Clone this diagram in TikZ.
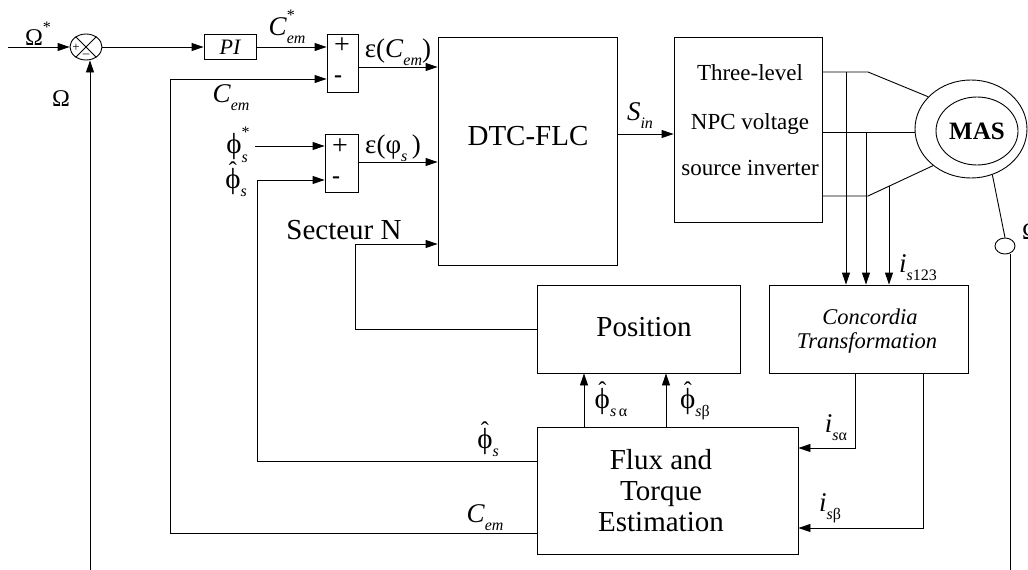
\RequirePackage{fix-cm}
\documentclass[tikz,border=0pt]{standalone}
\usepackage{amsmath}
\usepackage[no-math]{fontspec}
\setmainfont{Liberation Serif}
\usetikzlibrary{arrows.meta,shapes.geometric,calc}
\newcommand\fs[1]{\fontsize{#1}{#1}\selectfont}
\newcommand\sbs[1]{\raisebox{-0.3em}{\fs{16}#1}}
\newcommand\sps[1]{\raisebox{0.55em}{\fs{16}#1}}
\newcommand\sbsp[2]{\makebox[0pt][l]{\sps{#1}}\sbs{#2}}
\newcommand\hph{\leavevmode\vbox{\offinterlineskip\halign{\hfil##\hfil\cr{\fs{24}\char"02C6}\cr\noalign{\kern-10.5pt}ϕ\cr}}}
\begin{document}
\begin{tikzpicture}[x=1pt,y=-1pt,line width=0.9pt,
  box/.style={draw,rectangle,inner sep=0pt},
  arr/.style={-{Triangle[length=12pt,width=8pt]}},
  lbl/.style={inner sep=0pt,font=\fs{27}},
  phl/.style={inner sep=0pt,font=\fs{29}},
  big/.style={inner sep=0pt,font=\fs{29}},
  txt/.style={inner sep=0pt}]
\useasboundingbox (0,0) rectangle (1028,570);
\clip (0,0) rectangle (1028,570);
% blocks
\node[draw,ellipse,minimum width=32pt,minimum height=26pt,inner sep=0pt] (s0) at (86,47) {};
\draw (s0.45) -- (s0.225) (s0.135) -- (s0.315);
\node[txt,font=\fs{13}] (s0p) at (76,48) {+};
\node[txt,font=\fs{13}] (s0m) at (86,56) {--};
\node[box,minimum width=52pt,minimum height=25pt,font=\fs{22}\itshape] (pi) at (230,47) {PI};
\node[box,minimum width=31pt,minimum height=58pt] (sum1) at (342.5,63) {};
\node[txt,font=\fs{28}] (p1) at (342,46) {+};
\node[txt,font=\fs{24}\bfseries] (m1) at (338,79) {-};
\node[box,minimum width=33pt,minimum height=58pt] (sum2) at (341.5,163) {};
\node[txt,font=\fs{28}] (p2) at (340,147) {+};
\node[txt,font=\fs{24}\bfseries] (m2) at (336,180) {-};
\node[box,minimum width=179pt,minimum height=228pt] (dtc) at (527.5,151) {};
\node[big] (dtct) at (528,136) {DTC-FLC};
\node[box,minimum width=148pt,minimum height=185pt] (inv) at (748,129.5) {};
\node[txt,font=\fs{23}] (inv1) at (750,73) {Three-level};
\node[txt,font=\fs{23}] (inv2) at (750,124) {NPC voltage};
\node[txt,font=\fs{23}] (inv3) at (750,168) {source inverter};
\node[box,minimum width=203pt,minimum height=88pt] (pos) at (638.5,329) {};
\node[big] (post) at (644,327) {Position};
\node[box,minimum width=199pt,minimum height=88pt] (conc) at (868.5,329) {};
\node[txt,font=\fs{22.5}\itshape] (conc1) at (870,317) {Concordia};
\node[txt,font=\fs{22.5}\itshape] (conc2) at (867,343) {Transformation};
\node[box,minimum width=261pt,minimum height=127pt] (flux) at (667.5,490.5) {};
\node[txt,font=\fontsize{29}{31}\selectfont,align=center] (fluxt) at (661,491) {Flux and\\Torque\\Estimation};
\node[draw,ellipse,minimum width=112pt,minimum height=98pt,inner sep=0pt] (mas) at (971,129) {};
\node[draw,ellipse,minimum width=82pt,minimum height=68pt,inner sep=0pt,font=\fs{25}\bfseries] (masi) at (977,131) {MAS};
\node[draw,ellipse,minimum width=20pt,minimum height=16pt,inner sep=0pt] (sm) at (1005,246) {};
% coordinates
\coordinate (in0) at (8,47);
\coordinate (y67) at (0,67);
\coordinate (y162) at (0,162);
\coordinate (y134) at (0,134);
\coordinate (y132) at (0,132);
\coordinate (phin) at (255,146);
\coordinate (fb1) at (257,461);
\coordinate (fb1t) at (257,180);
\coordinate (fb2) at (170,533);
\coordinate (fb2t) at (170,79);
\coordinate (sc) at (355,244);
\coordinate (fa) at (584,0);
\coordinate (fbb) at (666,0);
\coordinate (ph1) at (868,72);
\coordinate (ph3) at (868,196);
\coordinate (v1) at (846,72);
\coordinate (v2) at (866,132);
\coordinate (v3) at (889,186);
\coordinate (ca) at (855,448);
\coordinate (cb) at (923,528);
\coordinate (om) at (1010,570);
\coordinate (omf) at (90,570);
% connectors
\draw[arr] (in0) -- (s0.west);
\draw[arr] (omf) -- (omf |- s0.south);
\draw[arr] (s0.east) -- (pi.west);
\draw[arr] (pi.east) -- (pi.east -| sum1.west);
\draw[arr] (sum1.east |- y67) -- (dtc.west |- y67);
\draw[arr] (sum2.east |- y162) -- (dtc.west |- y162);
\draw[arr] (phin) -- (phin -| sum2.west);
\draw[arr] (flux.west |- fb1) -- (fb1) -- (fb1t) -- (fb1t -| sum2.west);
\draw[arr] (flux.west |- fb2) -- (fb2) -- (fb2t) -- (fb2t -| sum1.west);
\draw[arr] (pos.west) -| (sc) -- (sc -| dtc.west);
\draw[arr] (dtc.east |- y134) -- (inv.west |- y134);
\draw[arr] (flux.north -| fa) -- (pos.south -| fa);
\draw[arr] (flux.north -| fbb) -- (pos.south -| fbb);
\draw (inv.east |- ph1) -- (ph1) -- (mas.143);
\draw (inv.east |- y132) -- (mas.west |- y132);
\draw (inv.east |- ph3) -- (ph3) -- (mas.224);
\draw[arr] (v1) -- (v1 |- conc.north);
\draw[arr] (v2) -- (v2 |- conc.north);
\draw[arr] (v3) -- (v3 |- conc.north);
\draw[arr] (conc.south -| ca) -- (ca) -- (ca -| flux.east);
\draw[arr] (conc.south -| cb) -- (cb) -- (cb -| flux.east);
\draw (mas.-65) -- (sm.north);
\draw (sm.south -| om) -- (om);
% labels
\node[lbl,font=\fs{24}] (lom1) at (38,34) {Ω\sps{*}};
\node[lbl,font=\fs{24}] (lom2) at (61,99) {Ω};
\node[lbl] (lcs) at (287,27) {\textit{C}\sbsp{*}{\textit{em}}};
\node[lbl] (lc1) at (231,98) {\textit{C}\sbs{\textit{em}}};
\node[phl] (lphs) at (237,145) {ϕ\sbsp{*}{\textit{s}}};
\node[phl,anchor=base] (lphh) at (236,188) {\hph\sbs{\textit{s}}};
\node[lbl] (lec) at (398,52) {ε(\textit{C}\sbs{\textit{em}})};
\node[lbl] (lep) at (393,148) {ε(φ\sbs{\textit{s}}\,)};
\node[lbl] (lsin) at (640,116) {\textit{S}\sbs{\textit{in}}};
\node[big] (lsec) at (344,230) {Secteur N};
\node[lbl] (li123) at (918,268) {\textit{i}\sbs{\textit{s}123}};
\node[phl,anchor=base] (lpa) at (611,408) {\hph\sbs{\textit{s}\,α}};
\node[phl,anchor=base] (lpb) at (695,408) {\hph\sbs{\textit{s}β}};
\node[phl,anchor=base] (lph2) at (488,448) {\hph\sbs{\textit{s}}};
\node[lbl] (lc2) at (485,518) {\textit{C}\sbs{\textit{em}}};
\node[lbl] (lia) at (836,428) {\textit{i}\sbs{\textit{s}α}};
\node[lbl] (lib) at (830,508) {\textit{i}\sbs{\textit{s}β}};
\node[lbl,font=\fs{24}] (lom3) at (1031,232) {Ω};
\end{tikzpicture}
\end{document}
